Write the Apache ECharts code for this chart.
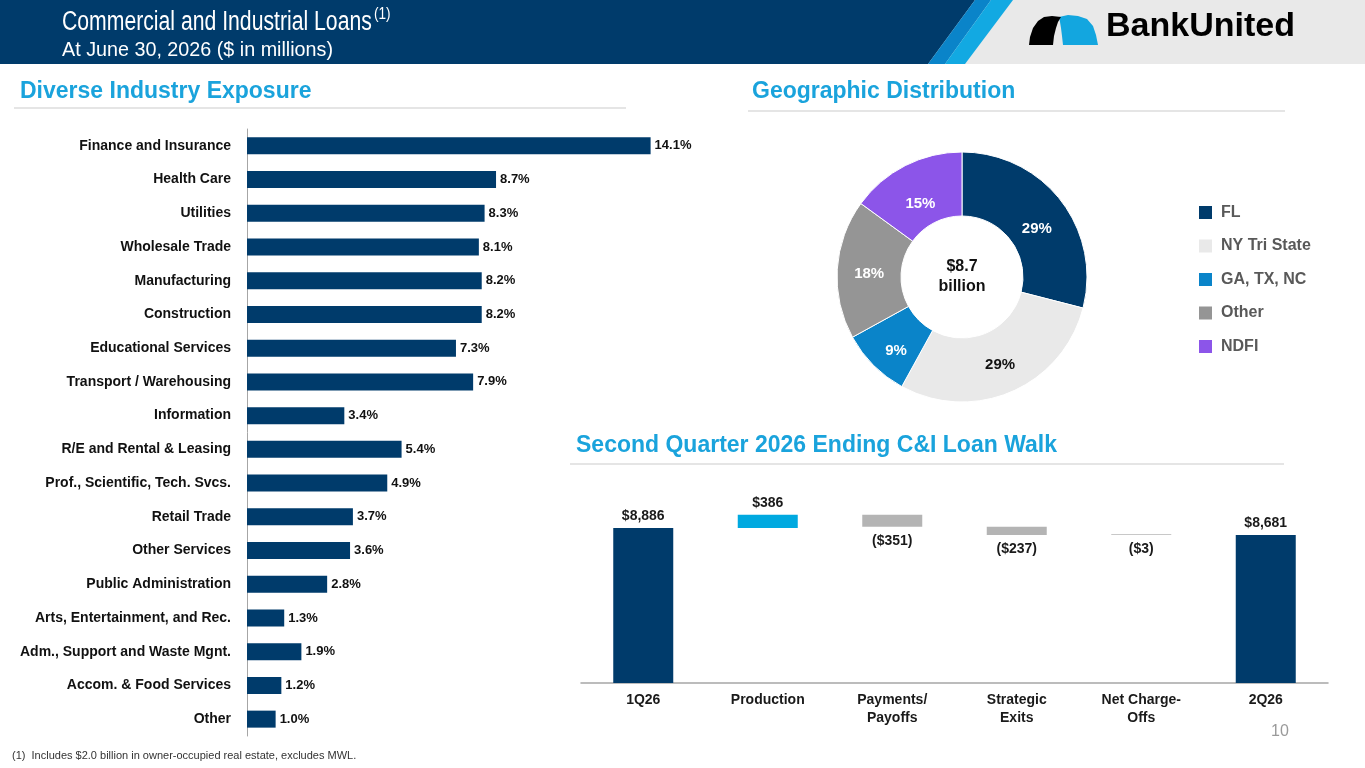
<!DOCTYPE html>
<html>
<head>
<meta charset="utf-8">
<title>Commercial and Industrial Loans</title>
<script src="https://cdn.jsdelivr.net/npm/echarts@6/dist/echarts.min.js"></script>
<style>
  html, body { margin: 0; padding: 0; background: #fff; }
  #main { width: 1365px; height: 768px; }
</style>
</head>
<body>
<div id="main"></div>
<script>
// industry mix (share of C&I loans, %)
var industries = ['Finance and Insurance', 'Health Care', 'Utilities', 'Wholesale Trade', 'Manufacturing',
    'Construction', 'Educational Services', 'Transport / Warehousing', 'Information', 'R/E and Rental & Leasing',
    'Prof., Scientific, Tech. Svcs.', 'Retail Trade', 'Other Services', 'Public Administration',
    'Arts, Entertainment, and Rec.', 'Adm., Support and Waste Mgnt.', 'Accom. & Food Services', 'Other'];
var industryShare = [14.1, 8.7, 8.3, 8.1, 8.2, 8.2, 7.3, 7.9, 3.4, 5.4, 4.9, 3.7, 3.6, 2.8, 1.3, 1.9, 1.2, 1.0];

// geographic split (%)
var regions = ['FL', 'NY Tri State', 'GA, TX, NC', 'Other', 'NDFI'];
var regionShare = [29, 29, 9, 18, 15];
var regionColors = ['#003b6b', '#e9e9e9', '#0a84c9', '#959595', '#8c55e9'];
var labelNudge = [[-1, 11], [0, 0], [2, 6], [3, 3], [2, 12]];   // slide-style label placement

// loan walk ($ millions)
var walkSteps = ['1Q26', 'Production', 'Payments/\nPayoffs', 'Strategic\nExits', 'Net Charge-\nOffs', '2Q26'];
var walkStart = 8886;
var walkChanges = [386, -351, -237, -3];
var walkEnd = 8681;

var NAVY = '#003b6b';
var CYAN = '#1aa3dc';
var FONT = '"Liberation Sans", Arial, sans-serif';

// build waterfall stacks
var baseData = ['-'], deltaData = ['-'], totalData = [walkStart];
var running = walkStart;
walkChanges.forEach(function (c) {
    var next = running + c;
    baseData.push(Math.min(running, next));
    deltaData.push({
        value: Math.abs(c),
        itemStyle: { color: c >= 0 ? '#00a9e0' : (Math.abs(c) < 10 ? '#c8c8c8' : '#b4b4b4') },
        label: { position: c >= 0 ? 'top' : 'bottom', distance: c >= 0 ? 5 : 7,
                 formatter: c >= 0 ? '$' + c : '($' + Math.abs(c) + ')' }
    });
    totalData.push('-');
    running = next;
});
baseData.push('-'); deltaData.push('-'); totalData.push(walkEnd);

function money(v) { return '$' + v.toLocaleString('en-US'); }

var myChart = echarts.init(document.getElementById('main'));
var option = {
    animation: false,
    textStyle: { fontFamily: FONT },
    graphic: [
        // header band
        { type: 'rect', shape: { x: 0, y: 0, width: 1365, height: 64 }, style: { fill: '#e9e9e9' }, z: 0 },
        { type: 'polygon', shape: { points: [[0, 0], [975, 0], [928, 64], [0, 64]] }, style: { fill: NAVY }, z: 1 },
        { type: 'polygon', shape: { points: [[975, 0], [991, 0], [945, 64], [928, 64]] }, style: { fill: '#0a84c9' }, z: 1 },
        { type: 'polygon', shape: { points: [[991, 0], [1013, 0], [965, 64], [945, 64]] }, style: { fill: '#12a9e2' }, z: 1 },
        { type: 'text', x: 62, y: 9, scaleX: 0.785, style: { text: 'Commercial and Industrial Loans', fill: '#fff', font: '27px ' + FONT }, z: 2 },
        { type: 'text', x: 374, y: 7, scaleX: 0.85, style: { text: '(1)', fill: '#fff', font: '16px ' + FONT }, z: 2 },
        { type: 'text', x: 62, y: 40, scaleX: 0.94, style: { text: 'At June 30, 2026 ($ in millions)', fill: '#fff', font: '21px ' + FONT }, z: 2 },
        // logo
        { type: 'polygon', shape: { points: [[1063, 45], [1062, 36], [1061, 28], [1060, 22], [1059, 17], [1068, 15], [1078, 16],
            [1087, 19], [1093, 26], [1096, 35], [1098, 45]] }, style: { fill: '#13a6df' }, z: 2 },
        { type: 'polygon', shape: { points: [[1029, 45], [1030, 37], [1033, 28], [1038, 21], [1044, 17], [1052, 16], [1061, 17],
            [1058, 22], [1056, 28], [1054, 36], [1053, 45]] }, style: { fill: '#000' }, z: 3 },
        { type: 'text', x: 1106, y: 10, style: { text: 'BankUnited', fill: '#000', font: 'bold 34px ' + FONT }, z: 2 },
        // section headings
        { type: 'text', x: 20, y: 80, style: { text: 'Diverse Industry Exposure', fill: CYAN, font: 'bold 23px ' + FONT } },
        { type: 'line', shape: { x1: 14, y1: 108, x2: 626, y2: 108 }, style: { stroke: '#dcdcdc', lineWidth: 1.5 } },
        { type: 'text', x: 752, y: 80, style: { text: 'Geographic Distribution', fill: CYAN, font: 'bold 23px ' + FONT } },
        { type: 'line', shape: { x1: 748, y1: 111, x2: 1285, y2: 111 }, style: { stroke: '#dcdcdc', lineWidth: 1.5 } },
        { type: 'text', x: 576, y: 434, style: { text: 'Second Quarter 2026 Ending C&I Loan Walk', fill: CYAN, font: 'bold 23px ' + FONT } },
        { type: 'line', shape: { x1: 570, y1: 464, x2: 1284, y2: 464 }, style: { stroke: '#dcdcdc', lineWidth: 1.5 } },
        // donut centre
        { type: 'text', x: 962, y: 277, style: { text: '$8.7\nbillion', fill: '#111', font: 'bold 16px ' + FONT,
            align: 'center', verticalAlign: 'middle', lineHeight: 20 } },
        // footnote and page number
        { type: 'text', x: 12, y: 750, style: { text: '(1)  Includes $2.0 billion in owner-occupied real estate, excludes MWL.', fill: '#333', font: '11px ' + FONT } },
        { type: 'text', x: 1271, y: 724, style: { text: '10', fill: '#9a9a9a', font: '16px ' + FONT } }
    ],
    legend: {
        data: regions,
        orient: 'vertical',
        left: 1197, top: 204, padding: 0,
        icon: 'rect', itemWidth: 15, itemHeight: 15, itemGap: 16.5,
        selectedMode: false,
        textStyle: { color: '#595959', fontSize: 16, fontWeight: 'bold', padding: [0, 0, 0, 3] }
    },
    grid: [
        { left: 247, top: 129, width: 458, height: 607 },
        { left: 581, top: 507, width: 747, height: 176 }
    ],
    xAxis: [
        { gridIndex: 0, type: 'value', min: 0, max: 16, show: false },
        { gridIndex: 1, type: 'category', data: walkSteps,
          axisLine: { lineStyle: { color: '#a6a6a6', width: 1.5 } }, axisTick: { show: false },
          axisLabel: { color: '#1a1a1a', fontSize: 14, fontWeight: 'bold', margin: 8, lineHeight: 18, interval: 0 } }
    ],
    yAxis: [
        { gridIndex: 0, type: 'category', data: industries, inverse: true,
          axisLine: { lineStyle: { color: '#a6a6a6', width: 1 } }, axisTick: { show: false },
          axisLabel: { color: '#111', fontSize: 14, fontWeight: 'bold', margin: 16 } },
        { gridIndex: 1, type: 'value', min: 4350, max: 9500, show: false }
    ],
    series: [
        { name: 'Industry', type: 'bar', xAxisIndex: 0, yAxisIndex: 0, data: industryShare, barWidth: 17,
          itemStyle: { color: NAVY },
          label: { show: true, position: 'right', distance: 4, color: '#111', fontSize: 13, fontWeight: 'bold',
                   formatter: function (p) { return p.value.toFixed(1) + '%'; } } },
        { name: 'base', type: 'bar', xAxisIndex: 1, yAxisIndex: 1, stack: 'walk', data: baseData, barWidth: 60,
          itemStyle: { color: 'rgba(0,0,0,0)' }, silent: true },
        { name: 'change', type: 'bar', xAxisIndex: 1, yAxisIndex: 1, stack: 'walk', data: deltaData, barWidth: 60,
          barMinHeight: 1,
          label: { show: true, color: '#1a1a1a', fontSize: 14, fontWeight: 'bold' } },
        { name: 'total', type: 'bar', xAxisIndex: 1, yAxisIndex: 1, stack: 'walk', data: totalData, barWidth: 60,
          itemStyle: { color: NAVY },
          label: { show: true, position: 'top', distance: 5, color: '#1a1a1a', fontSize: 14, fontWeight: 'bold',
                   formatter: function (p) { return money(p.value); } } },
        { name: 'Geography', type: 'pie', center: [962, 277], radius: [61, 125], startAngle: 90, clockwise: true,
          data: regions.map(function (r, i) {
              return { name: r, value: regionShare[i], itemStyle: { color: regionColors[i] },
                       label: { color: i === 1 ? '#111' : '#fff', offset: labelNudge[i] } };
          }),
          itemStyle: { borderColor: '#fff', borderWidth: 1 },
          label: { show: true, position: 'inner', fontSize: 15, fontWeight: 'bold', formatter: '{c}%' },
          labelLine: { show: false }, emphasis: { disabled: true } }
    ]
};
myChart.setOption(option);
</script>
</body>
</html>
